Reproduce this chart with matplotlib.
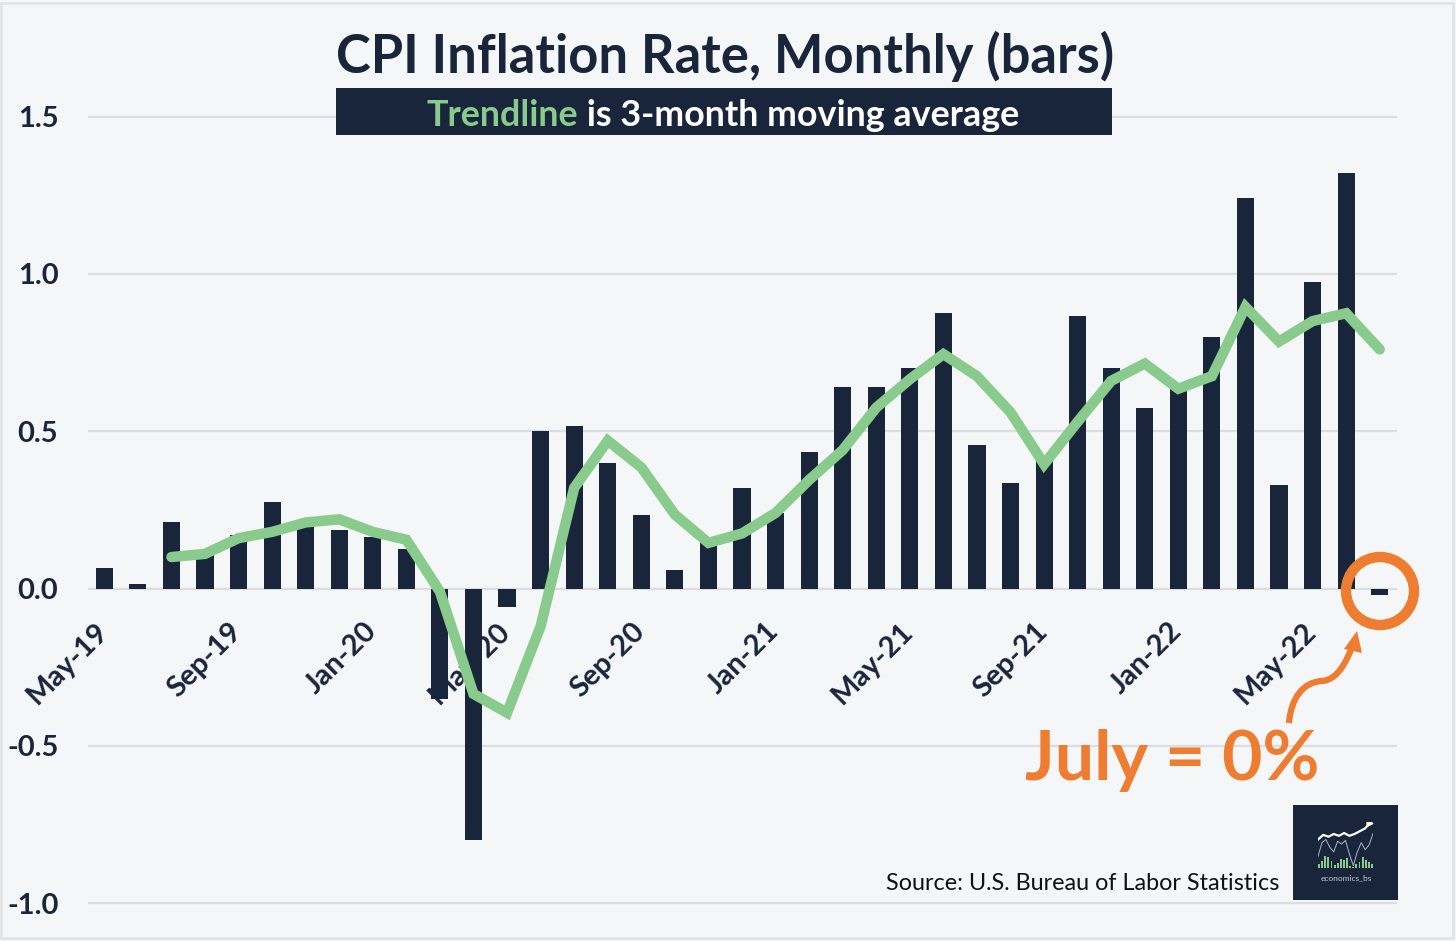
#!/usr/bin/env python3
"""
CPI inflation rate, monthly bars with a 3-month moving average trendline.
"""

import numpy as np
import matplotlib
matplotlib.use('Agg')
import matplotlib.pyplot as plt
from matplotlib.patches import Circle, PathPatch, Polygon, Rectangle
from matplotlib.path import Path
from matplotlib.transforms import Affine2D, ScaledTranslation

# Monthly CPI change, May-19 to Jul-22
months = ['May-19', 'Jun-19', 'Jul-19', 'Aug-19', 'Sep-19', 'Oct-19', 'Nov-19', 'Dec-19',
          'Jan-20', 'Feb-20', 'Mar-20', 'Apr-20', 'May-20', 'Jun-20', 'Jul-20', 'Aug-20',
          'Sep-20', 'Oct-20', 'Nov-20', 'Dec-20', 'Jan-21', 'Feb-21', 'Mar-21', 'Apr-21',
          'May-21', 'Jun-21', 'Jul-21', 'Aug-21', 'Sep-21', 'Oct-21', 'Nov-21', 'Dec-21',
          'Jan-22', 'Feb-22', 'Mar-22', 'Apr-22', 'May-22', 'Jun-22', 'Jul-22']
cpi = [0.065, 0.015, 0.21, 0.12, 0.17, 0.275, 0.20, 0.185,
       0.165, 0.125, -0.35, -0.80, -0.06, 0.50, 0.515, 0.40,
       0.235, 0.06, 0.15, 0.32, 0.24, 0.435, 0.64, 0.64,
       0.70, 0.875, 0.455, 0.335, 0.41, 0.865, 0.70, 0.575,
       0.64, 0.80, 1.24, 0.33, 0.975, 1.32, -0.02]

# 3-month moving average, starts at Jul-19
trend = [0.10, 0.11, 0.16, 0.18, 0.21, 0.22, 0.18, 0.155,
         -0.01, -0.335, -0.395, -0.12, 0.32, 0.47, 0.385, 0.235,
         0.145, 0.175, 0.24, 0.345, 0.44, 0.575, 0.665, 0.745,
         0.675, 0.56, 0.395, 0.53, 0.66, 0.715, 0.635, 0.675,
         0.895, 0.785, 0.85, 0.875, 0.76]

y_ticks = [-1.0, -0.5, 0.0, 0.5, 1.0, 1.5]

# small sketch inside the logo
logo_top = [0.62, 0.72, 0.68, 0.74, 0.70, 0.76, 0.70, 0.74, 0.80, 0.86, 0.98]
logo_thin = [0.25, 0.55, 0.62, 0.45, 0.35, 0.58, 0.52, 0.60, 0.30, 0.05, 0.35, 0.55, 0.40, 0.50, 0.75]
logo_bars = [0.08, 0.15, 0.26, 0.24, 0.15, 0.06, 0.10, 0.20, 0.18, 0.22, 0.05, 0.03, 0.08, 0.12, 0.24, 0.18, 0.12, 0.08]

NAVY = '#19253a'
GREEN = '#88cb8c'
ORANGE = '#ee7d31'
BG = '#f4f6f8'
GRID = '#dcdde0'
FONT = 'Lato'

W, H = 1456, 941
plt.rcParams['font.family'] = [FONT, 'DejaVu Sans']

fig = plt.figure(figsize=(W / 100, H / 100), dpi=100, facecolor=BG)

# pixel coordinates with the origin at the top left
px = Affine2D().scale(1, -1).translate(0, H)

# axes placed so y=0 sits at 588.5px and one unit is 314.6px
y_zero, y_unit = 588.5, 314.6
ax_top, ax_bottom = 100, 915
ax = fig.add_axes([87.5 / W, 1 - ax_bottom / H, (1396.5 - 87.5) / W, (ax_bottom - ax_top) / H])
ax.set_facecolor('none')
ax.set_ylim((y_zero - ax_bottom) / y_unit, (y_zero - ax_top) / y_unit)
ax.set_xlim(-0.5, len(months) - 0.5)

# has to come first, moving a spine resets the ticks
for name, spine in ax.spines.items():
    spine.set_visible(False)
ax.spines['bottom'].set_position(('data', 0))

x = np.arange(len(months))
ax.bar(x, cpi, width=0.51, color=NAVY, zorder=2)
ax.plot(x[2:], trend, color=GREEN, lw=7.5, solid_capstyle='round', solid_joinstyle='miter', zorder=3)

# labels sit under the bars, as in the original
ax.set_axisbelow(True)
ax.grid(True, axis='y', color=GRID, lw=1.6)
ax.set_yticks(y_ticks)
ax.set_yticklabels([f'{v:.1f}' for v in y_ticks], fontsize=21, fontweight='bold', color=NAVY)
ax.set_xticks(x[::4])
ax.set_xticklabels(months[::4], rotation=45, ha='right', rotation_mode='anchor',
                   fontsize=21, fontweight='bold', color=NAVY)
ax.tick_params(axis='y', length=0, pad=21)
ax.tick_params(axis='x', length=0, pad=14)

# slide the date labels down their own slant
slide = ScaledTranslation(-10 / 100, -10 / 100, fig.dpi_scale_trans)
for label in ax.get_xticklabels():
    label.set_transform(label.get_transform() + slide)

# outer frame
fig.add_artist(Rectangle((1, 3), 1452, 935, transform=px, fill=False, ec='#e2e3e5', lw=2))

# title and subtitle
fig.text(725 / W, 1 - 56 / H, 'CPI Inflation Rate, Monthly (bars)', ha='center', va='center',
         fontsize=37.8, fontweight='bold', color=NAVY)
fig.add_artist(Rectangle((336, 88), 776, 47, transform=px, fc=NAVY, ec='none', zorder=4))
t1 = fig.text(0, 1 - 115 / H, 'Trendline', va='center', fontsize=25.8, fontweight='bold', color=GREEN, zorder=5)
t2 = fig.text(0, 1 - 115 / H, ' is 3-month moving average', va='center', fontsize=25.8, fontweight='bold',
              color='white', zorder=5)
renderer = fig.canvas.get_renderer()
w1 = t1.get_window_extent(renderer).width
w2 = t2.get_window_extent(renderer).width
left = 723 - (w1 + w2) / 2
t1.set_x(left / W)
t2.set_x((left + w1) / W)

# July callout
fig.add_artist(Circle((1380, 591), 34, transform=px, fill=False, ec=ORANGE, lw=7.5, zorder=6))
fig.text(1172 / W, 1 - 761 / H, 'July = 0%', ha='center', va='center', fontsize=50, fontweight='bold',
         color=ORANGE, zorder=6)
curve = Path([(1289, 723), (1291, 698), (1303, 682), (1322, 681), (1338, 680), (1347, 660), (1352, 647)],
             [Path.MOVETO, Path.CURVE4, Path.CURVE4, Path.CURVE4, Path.CURVE4, Path.CURVE4, Path.CURVE4])
fig.add_artist(PathPatch(curve, transform=px, fill=False, ec=ORANGE, lw=4.5, zorder=6))
fig.add_artist(Polygon([(1357, 631), (1344, 649), (1362, 653)], transform=px, fc=ORANGE, ec='none', zorder=6))

# source and logo
fig.text(1279 / W, 1 - 883 / H, 'Source: U.S. Bureau of Labor Statistics', ha='right', va='center',
         fontsize=16.8, color='#111111')
fig.add_artist(Rectangle((1293, 805), 105, 95, transform=px, fc=NAVY, ec='none', zorder=4))
logo = fig.add_axes([1318 / W, 1 - 868 / H, 55 / W, 46 / H], zorder=7)
logo.set_axis_off()
logo.set_xlim(0, 1)
logo.set_ylim(0, 1)
logo.plot(np.linspace(0, 0.95, len(logo_top)), logo_top, color='white', lw=1.6)
logo.plot(np.linspace(0.93, 0.95, 2), logo_top[-1:] * 2, color='white', marker='>', ms=3.5)
logo.plot(np.linspace(0, 1, len(logo_thin)), logo_thin, color='#a9b7c6', lw=0.7)
logo.bar(np.linspace(0.02, 0.98, len(logo_bars)), logo_bars, width=0.035, color=GREEN)
fig.text(1346 / W, 1 - 878 / H, 'economics_bs', ha='center', va='center', fontsize=6, color='#c3c9d1', zorder=7)

fig.savefig('out.png', dpi=100, facecolor=BG)
plt.close(fig)
